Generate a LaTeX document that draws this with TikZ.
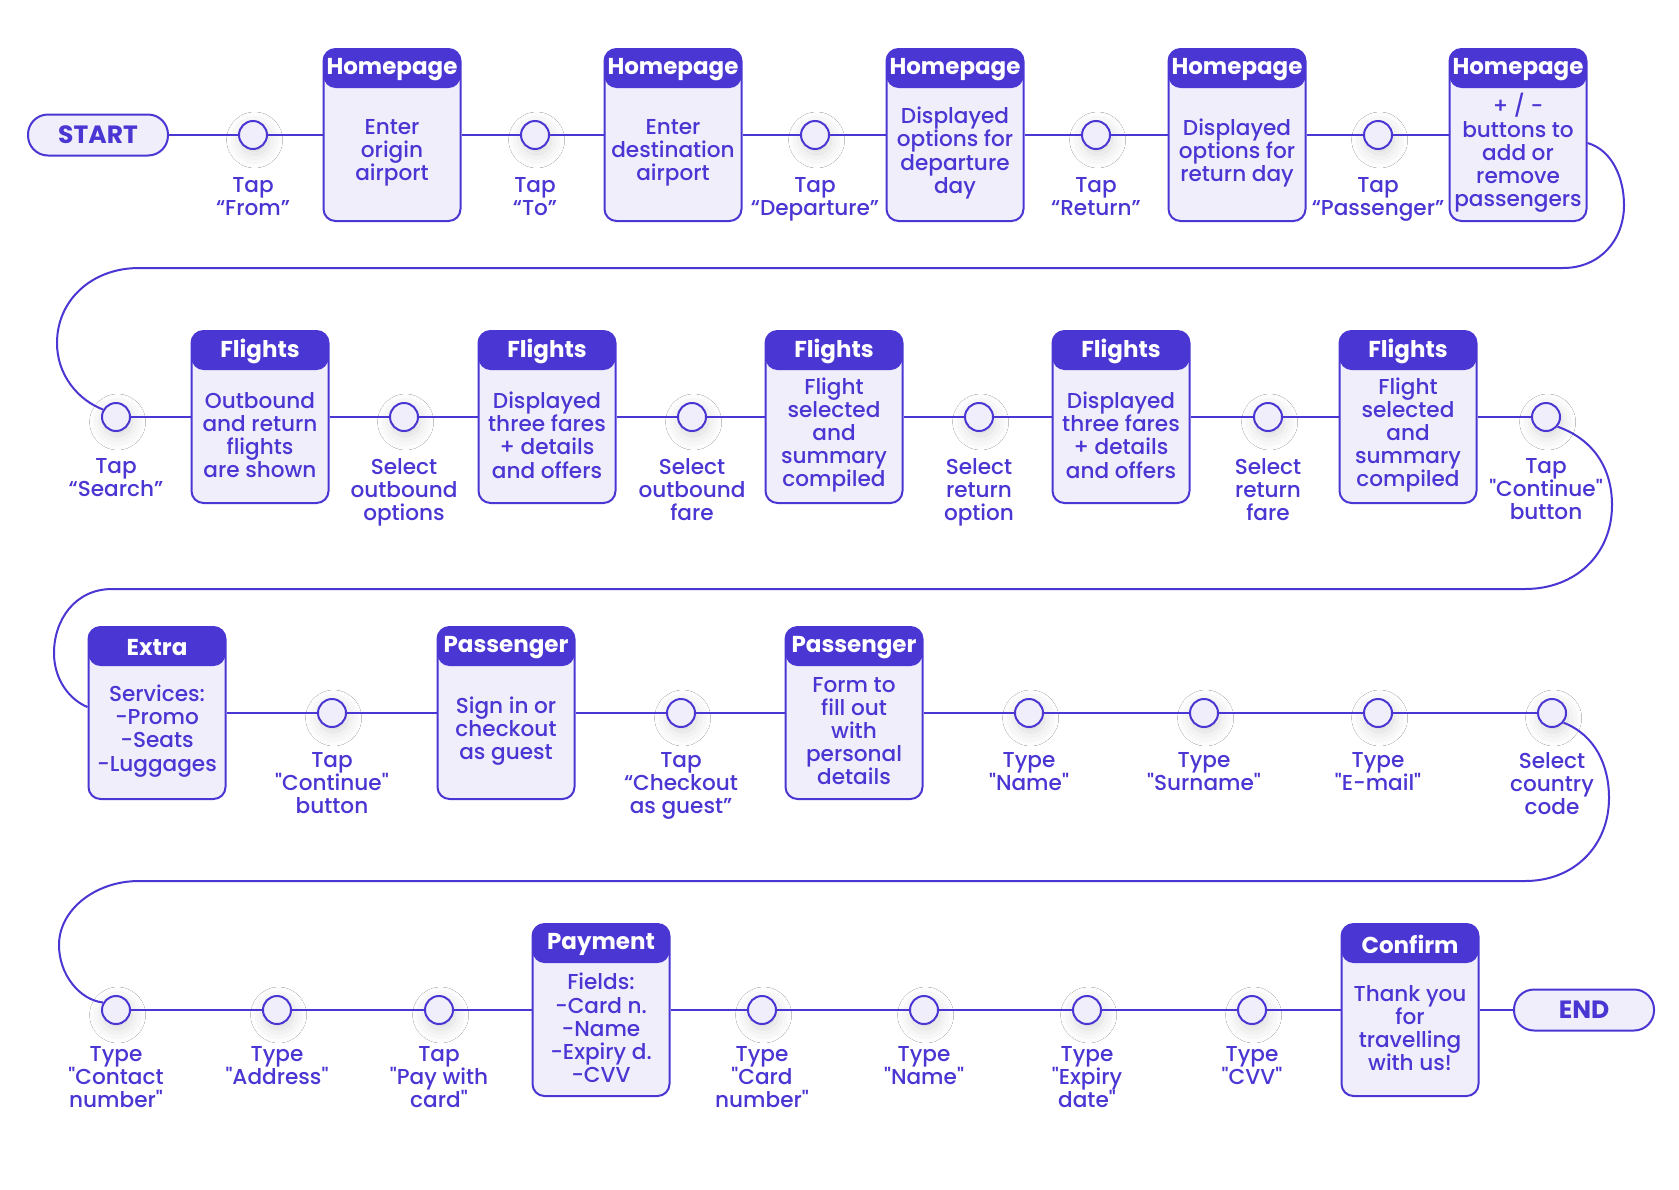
\documentclass[tikz,border=0pt]{standalone}
\usepackage{fontspec}
\setmainfont{Poppins}[Ligatures=TeXOff, UprightFont=* Medium, BoldFont=* Bold]
\usetikzlibrary{shadows.blur}
\definecolor{main}{HTML}{4A36D3}
\definecolor{light}{HTML}{F1EEFC}
\tikzset{
  conn/.style={draw=main, line width=1pt},
  box/.style={rectangle, draw=main, fill=light, line width=1pt, rounded corners=6pt,
    minimum width=68.5pt, minimum height=86pt, inner sep=0pt,
    path picture={\fill[main] ([yshift=2pt]path picture bounding box.north west) rectangle ([yshift=-19.5pt]path picture bounding box.north east);}},
  hdrtext/.style={text=white, font=\fontsize{11.5pt}{13pt}\selectfont\bfseries, inner sep=0pt},
  bodytext/.style={text=main, align=center, font=\fontsize{10.8pt}{11.6pt}\selectfont, inner sep=0pt},
  dot/.style={circle, draw=main, fill=light, line width=1pt, minimum size=14pt, inner sep=0pt,
    blur shadow={shadow xshift=0.8pt, shadow yshift=-2.5pt, shadow blur radius=7pt, shadow opacity=16}},
  lbl/.style={text=main, align=center, font=\fontsize{10.8pt}{11.6pt}\selectfont, inner sep=0pt, anchor=north},
  pill/.style={rectangle, draw=main, fill=light, line width=1pt, rounded corners=10pt,
    minimum width=70pt, minimum height=20.5pt, inner sep=0pt, text=main,
    font=\fontsize{12.5pt}{14pt}\selectfont\bfseries},
}
\newcommand\lbloff{-18pt}
\newcommand\screen[5]{%
  \node[box] (#1) at (#2,#3) {};
  \node[hdrtext] (#1h) at ([yshift=-10.6pt]#1.north) {#4};
  \node[bodytext] (#1t) at ([yshift=-52.5pt]#1.north) {#5};}
\newcommand\tapnode[4]{%
  \node[dot] (#1) at (#2,#3) {};
  \node[lbl] (#1l) at ([yshift=\lbloff]#1.center) {#4};}
\begin{document}
\begin{tikzpicture}[x=0.5pt,y=-0.5pt]
\useasboundingbox[fill=white] (0,0) rectangle (1679,1189);
% Row 1
\renewcommand\lbloff{-21pt}
\node[pill] (start) at (98,135) {START};
\tapnode{c1}{253}{135}{Tap\\“From”}
\screen{b1}{392}{135}{Homepage}{Enter\\origin\\airport}
\tapnode{c2}{535}{135}{Tap\\“To”}
\screen{b2}{673}{135}{Homepage}{Enter\\destination\\airport}
\tapnode{c3}{815}{135}{Tap\\“Departure”}
\screen{b3}{955}{135}{Homepage}{Displayed\\options for\\departure\\day}
\tapnode{c4}{1096}{135}{Tap\\“Return”}
\screen{b4}{1237}{135}{Homepage}{Displayed\\options for\\return day}
\tapnode{c5}{1378}{135}{Tap\\“Passenger”}
\screen{b5}{1518}{135}{Homepage}{+ / -\\buttons to\\add or\\remove\\passengers}
% Row 2
\renewcommand\lbloff{-20.5pt}
\tapnode{c6}{116}{417}{Tap\\“Search”}
\screen{b6}{260}{417}{Flights}{Outbound\\and return\\flights\\are shown}
\tapnode{c7}{404}{417}{Select\\outbound\\options}
\screen{b7}{547}{417}{Flights}{Displayed\\three fares\\+ details\\and offers}
\tapnode{c8}{692}{417}{Select\\outbound\\fare}
\screen{b8}{834}{417}{Flights}{Flight\\selected\\and\\summary\\compiled}
\tapnode{c9}{979}{417}{Select\\return\\option}
\screen{b9}{1121}{417}{Flights}{Displayed\\three fares\\+ details\\and offers}
\tapnode{c10}{1268}{417}{Select\\return\\fare}
\screen{b10}{1408}{417}{Flights}{Flight\\selected\\and\\summary\\compiled}
\tapnode{c11}{1546}{417}{Tap\\"Continue"\\button}
% Row 3
\renewcommand\lbloff{-19.5pt}
\screen{b11}{157}{713}{Extra}{Services:\\-Promo\\-Seats\\-Luggages}
\tapnode{c12}{332}{713}{Tap\\"Continue"\\button}
\screen{b12}{506}{713}{Passenger}{Sign in or\\checkout\\as guest}
\tapnode{c13}{681}{713}{Tap\\“Checkout\\as guest”}
\screen{b13}{854}{713}{Passenger}{Form to\\fill out\\with\\personal\\details}
\tapnode{c14}{1029}{713}{Type\\"Name"}
\tapnode{c15}{1204}{713}{Type\\"Surname"}
\tapnode{c16}{1378}{713}{Type\\"E-mail"}
\tapnode{c17}{1552}{713}{Select\\country\\code}
% Row 4
\renewcommand\lbloff{-18pt}
\tapnode{c18}{116}{1010}{Type\\"Contact\\number"}
\tapnode{c19}{277}{1010}{Type\\"Address"}
\tapnode{c20}{439}{1010}{Tap\\"Pay with\\card"}
\screen{b14}{601}{1010}{Payment}{Fields:\\-Card n.\\-Name\\-Expiry d.\\-CVV}
\tapnode{c21}{762}{1010}{Type\\"Card\\number"}
\tapnode{c22}{924}{1010}{Type\\"Name"}
\tapnode{c23}{1087}{1010}{Type\\"Expiry\\date"}
\tapnode{c24}{1252}{1010}{Type\\"CVV"}
\screen{b15}{1410}{1010}{Confirm}{Thank you\\for\\travelling\\with us!}
\node[pill] (end) at (1584,1010) {END};
% connectors
\draw[conn] (start) -- (c1) -- (b1) -- (c2) -- (b2) -- (c3) -- (b3) -- (c4) -- (b4) -- (c5) -- (b5);
\draw[conn] ([yshift=-4pt]b5.east) .. controls (1612,150) and (1624,178) .. (1624,205)
  .. controls (1624,240) and (1600,268) .. (1563,268) -- (139,268)
  .. controls (92,268) and (57,300) .. (57,343) .. controls (57,375) and (78,400) .. (c6.150);
\draw[conn] (c6) -- (b6) -- (c7) -- (b7) -- (c8) -- (b8) -- (c9) -- (b9) -- (c10) -- (b10) -- (c11);
\draw[conn] (c11.-40) .. controls (1595,440) and (1612,470) .. (1612,505)
  .. controls (1612,555) and (1575,589) .. (1525,589) -- (112,589)
  .. controls (75,589) and (54,620) .. (54,653) .. controls (54,680) and (70,700) .. ([yshift=3pt]b11.west);
\draw[conn] (b11) -- (c12) -- (b12) -- (c13) -- (b13) -- (c14) -- (c15) -- (c16) -- (c17);
\draw[conn] (c17.-40) .. controls (1595,735) and (1609,765) .. (1609,798)
  .. controls (1609,845) and (1575,881) .. (1525,881) -- (139,881)
  .. controls (95,881) and (59,910) .. (59,945) .. controls (59,975) and (80,1000) .. (c18.150);
\draw[conn] (c18) -- (c19) -- (c20) -- (b14) -- (c21) -- (c22) -- (c23) -- (c24) -- (b15) -- (end);
\end{tikzpicture}
\end{document}
